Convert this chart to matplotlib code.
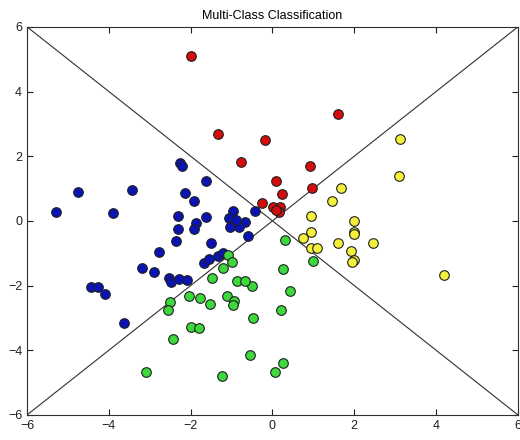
import numpy as np
import matplotlib
matplotlib.use("Agg")
import matplotlib.pyplot as plt

plt.rcParams["font.family"] = ["Liberation Sans", "DejaVu Sans"]

# class samples (x, y)
bleu_x = [-5.30, -4.75, -3.91, -3.44, -2.25, -2.21, -1.63, -2.14, -1.91, -2.32,
          -1.63, -0.97, -1.06, -0.66, -0.42, -1.87, -1.91, -2.32, -1.05, -0.83,
          -0.61, -2.36, -1.50, -2.77, -1.67, -1.54, -1.34, -1.22, -3.20, -2.89,
          -4.44, -4.26, -4.10, -3.64, -2.52, -2.48, -2.28, -2.08, -0.90]
bleu_y = [0.26, 0.88, 0.23, 0.95, 1.80, 1.70, 1.23, 0.86, 0.61, 0.15,
          0.12, 0.30, 0.08, -0.02, 0.32, -0.08, -0.25, -0.25, -0.19, -0.19,
          -0.48, -0.63, -0.69, -0.95, -1.29, -1.19, -1.10, -0.98, -1.47, -1.57,
          -2.03, -2.03, -2.26, -3.16, -1.78, -1.88, -1.81, -1.83, 0.02]

rouge_x = [-1.99, -1.32, -0.18, -0.78, 1.61, 0.92, 0.09, 0.97, 0.23, -0.25,
           0.01, 0.19, 0.15, 0.09]
rouge_y = [5.09, 2.70, 2.50, 1.83, 3.30, 1.70, 1.22, 1.02, 0.83, 0.55,
           0.42, 0.44, 0.26, 0.34]

jaune_x = [3.11, 3.09, 1.67, 1.45, 0.95, 1.99, 0.95, 1.99, 1.99, 0.74,
           1.61, 2.45, 0.95, 1.10, 1.92, 1.99, 1.94, 4.20]
jaune_y = [2.54, 1.40, 1.02, 0.60, 0.15, 0.00, -0.35, -0.35, -0.40, -0.52,
           -0.69, -0.69, -0.83, -0.85, -0.92, -1.21, -1.28, -1.68]

vert_x = [0.31, 1.00, 0.25, -0.51, 0.42, 0.20, -0.47, -0.56, 0.25, 0.07,
          -1.09, -0.99, -1.22, -1.48, -0.87, -0.67, -2.03, -1.78, -1.53, -1.11,
          -0.94, -0.97, -2.50, -2.55, -2.00, -1.79, -2.43, -3.10, -1.23]
vert_y = [-0.60, -1.25, -1.49, -2.00, -2.18, -2.75, -3.01, -4.14, -4.40, -4.67,
          -1.04, -1.27, -1.46, -1.76, -1.86, -1.86, -2.32, -2.38, -2.56, -2.31,
          -2.47, -2.59, -2.52, -2.77, -3.27, -3.30, -3.66, -4.67, -4.80]

# decision boundaries y = x and y = -x
frontiere = np.array([-6, 6])

fig = plt.figure(figsize=(5.2, 4.4), dpi=100)
ax = fig.add_axes([0.052, 0.057, 0.944, 0.882])

ax.plot(frontiere, frontiere, color="#303030", lw=0.8, zorder=1)
ax.plot(frontiere, -frontiere, color="#303030", lw=0.8, zorder=1)

style = dict(s=48, edgecolors="#202020", linewidths=0.8, zorder=3)
ax.scatter(bleu_x, bleu_y, c="#0a14b4", **style)
ax.scatter(rouge_x, rouge_y, c="#d40c0c", **style)
ax.scatter(vert_x, vert_y, c="#3cd83c", **style)
ax.scatter(jaune_x, jaune_y, c="#f4f03c", **style)

ax.set_xlim(-6, 6)
ax.set_ylim(-6, 6)
ax.set_xticks(range(-6, 7, 2))
ax.set_yticks(range(-6, 7, 2))
ax.tick_params(direction="in", top=True, right=True, labelsize=9,
               length=4, width=0.8, colors="#202020")
for s in ax.spines.values():
    s.set_linewidth(0.8)
    s.set_color("#303030")
ax.set_title("Multi-Class Classification", fontsize=9, pad=6)

fig.savefig("out.png", dpi=100)
